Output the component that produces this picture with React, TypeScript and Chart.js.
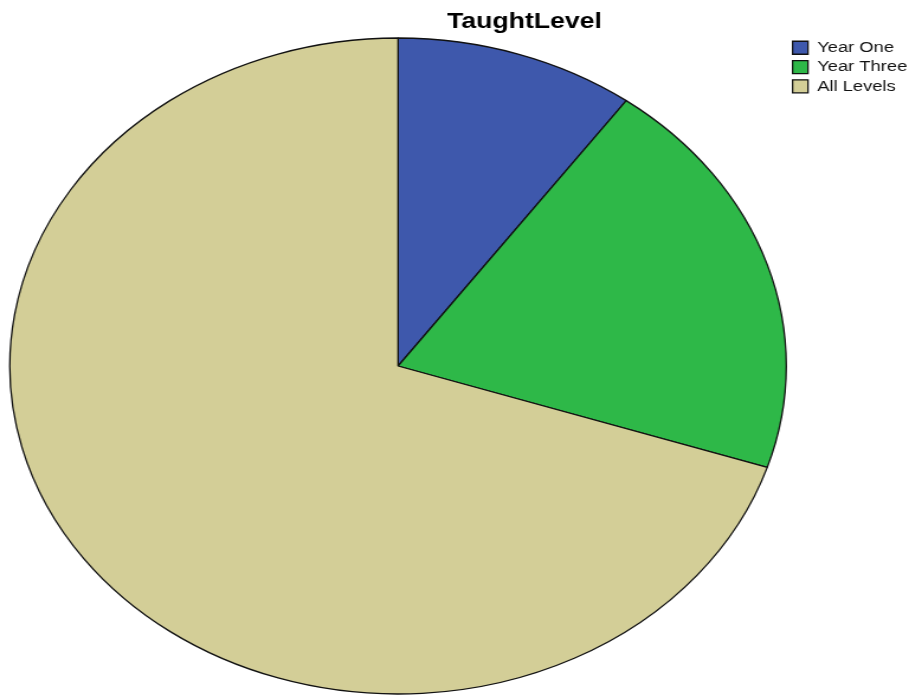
import React, { useEffect, useRef } from "react";
import { Chart, registerables } from "chart.js";

Chart.register(...registerables);

const categories: string[] = ["Year One", "Year Three", "All Levels"];
const counts: number[] = [10, 20, 70];
const sliceColors: string[] = ["#3E58AC", "#2EB848", "#D3CE97"];
const chartTitle = "TaughtLevel";

// canvas is drawn at 768 px wide and stretched to 909 px (the reference is horizontally stretched)
const CANVAS_W = 768;
const CANVAS_H = 696;
const PIE_CX = 336.3;
const PIE_CY = 366;
const PIE_R = 328;

const pieAreaPlugin = {
  id: "pieArea",
  afterLayout(chart: any) {
    const ca = chart.chartArea;
    ca.left = PIE_CX - PIE_R - 0.65;
    ca.right = PIE_CX + PIE_R + 0.65;
    ca.top = PIE_CY - PIE_R - 0.65;
    ca.bottom = PIE_CY + PIE_R + 0.65;
    ca.width = ca.right - ca.left;
    ca.height = ca.bottom - ca.top;
  },
};

export default function App() {
  const ref = useRef<HTMLCanvasElement | null>(null);

  useEffect(() => {
    if (!ref.current) return;
    const chart = new Chart(ref.current, {
      type: "pie",
      data: {
        labels: categories,
        datasets: [
          {
            data: counts,
            backgroundColor: sliceColors,
            borderColor: "#111111",
            borderWidth: 1.3,
          },
        ],
      },
      plugins: [pieAreaPlugin],
      options: {
        animation: false,
        responsive: false,
        devicePixelRatio: 1,
        events: [],
        layout: { padding: { left: 109.7, right: -8.5, top: 0, bottom: 0 } },
        plugins: {
          title: {
            display: true,
            text: chartTitle,
            color: "#000000",
            font: { family: "'Liberation Sans', Arial, sans-serif", size: 22.5, weight: "bold" },
            padding: { top: 8, bottom: 1.2 },
          },
          legend: {
            display: true,
            position: "right",
            align: "start",
            fullSize: false,
            labels: {
              boxWidth: 13,
              boxHeight: 13,
              padding: 3.8,
              color: "#111111",
              font: { family: "'Liberation Sans', Arial, sans-serif", size: 15.5 },
            },
          },
          tooltip: { enabled: false },
        },
      },
    });
    return () => chart.destroy();
  }, []);

  return (
    <div style={{ position: "absolute", left: 0, top: 0, width: 909, height: 696, background: "#fff" }}>
      <canvas
        ref={ref}
        width={CANVAS_W}
        height={CANVAS_H}
        style={{ width: "909px", height: "696px", display: "block" }}
      />
    </div>
  );
}
